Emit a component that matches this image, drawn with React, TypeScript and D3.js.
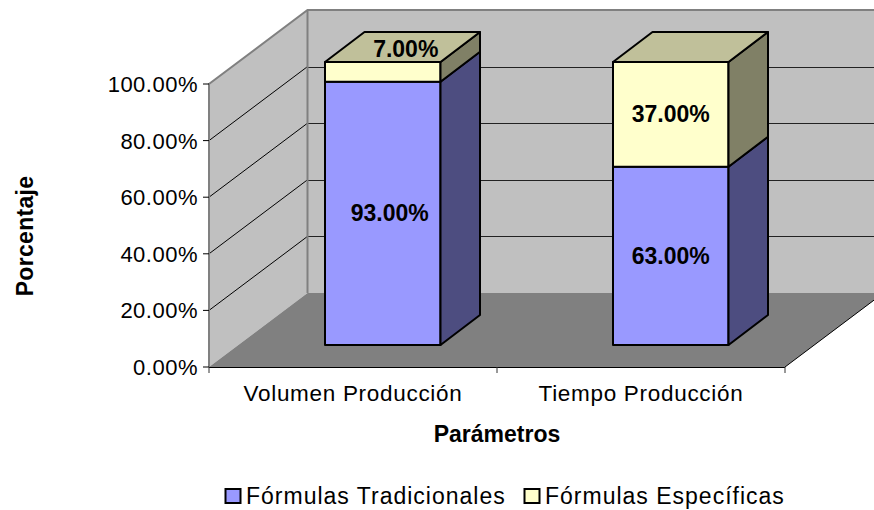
import React from "react";
import * as d3 from "d3";

const categories = ["Volumen Producción", "Tiempo Producción"];
const seriesNames = ["Fórmulas Tradicionales", "Fórmulas Específicas"];
const tradicionales = [93, 63];
const especificas = [7, 37];
const yTicks = [0, 20, 40, 60, 80, 100];
const yTickLabels = ["0.00%", "20.00%", "40.00%", "60.00%", "80.00%", "100.00%"];

const FONT = "'Liberation Sans', Arial, sans-serif";
const W = 874, H = 510;
const X0 = 209, X1 = 785, Y0 = 367, Y100 = 84;
const DEPTH_X = 98.5, DEPTH_Y = 74;
const FRONT_Y = 22;
const BAR_DX = 39.5, BAR_DY = 30;
const BAR_W = 115.5, BAR_OFFSET = 116;
const blue = ["#9999ff", "#4d4d80"];
const yellow = ["#ffffcc", "#808066", "#c0c09a"];

const x = d3.scaleBand<string>().domain(categories).range([X0, X1]);
const y = d3.scaleLinear().domain([0, 100]).range([Y0, Y100]);
const poly = (pts: number[][]) => pts.map(p => p.join(",")).join(" ");

export default function App() {
  const stacks = d3.stack<any>().keys(["a", "b"])(
    categories.map((c, i) => ({ c, a: tradicionales[i], b: especificas[i] }))
  );
  const colors = [blue, yellow];
  return (
    <svg width={W} height={H} viewBox={`0 0 ${W} ${H}`}
      style={{ position: "absolute", left: 0, top: 0, background: "#fff" }} fontFamily={FONT}>
      {/* walls */}
      <polygon points={poly([[X0, Y100], [X0 + DEPTH_X, Y100 - DEPTH_Y], [X0 + DEPTH_X, Y0 - DEPTH_Y], [X0, Y0]])} fill="#c0c0c0" />
      <polygon points={poly([[X0 + DEPTH_X, Y100 - DEPTH_Y], [X1 + DEPTH_X, Y100 - DEPTH_Y], [X1 + DEPTH_X, Y0 - DEPTH_Y], [X0 + DEPTH_X, Y0 - DEPTH_Y]])} fill="#c0c0c0" />
      <polygon points={poly([[X0, Y0], [X0 + DEPTH_X, Y0 - DEPTH_Y], [X1 + DEPTH_X, Y0 - DEPTH_Y], [X1, Y0]])} fill="#808080" />
      {/* gridlines */}
      {yTicks.slice(1, -1).map(t => (
        <g key={t} fill="none" stroke="#000" strokeWidth={1}>
          <line x1={X0} y1={y(t)} x2={X0 + DEPTH_X} y2={y(t) - DEPTH_Y} />
          <line x1={X0 + DEPTH_X} y1={Math.round(y(t) - DEPTH_Y) + 0.5} x2={X1 + DEPTH_X} y2={Math.round(y(t) - DEPTH_Y) + 0.5} stroke="#222" />
        </g>
      ))}
      {/* wall borders */}
      <polyline fill="none" stroke="#808080" strokeWidth={2}
        points={poly([[X0, Y0], [X0, Y100], [X0 + DEPTH_X, Y100 - DEPTH_Y], [X1 + DEPTH_X, Y100 - DEPTH_Y]])} />
      <line x1={X0 + DEPTH_X} y1={Y100 - DEPTH_Y} x2={X0 + DEPTH_X} y2={Y0 - DEPTH_Y} stroke="#808080" strokeWidth={2} />
      <line x1={X1} y1={Y0} x2={X1 + DEPTH_X} y2={Y0 - DEPTH_Y} stroke="#000" strokeWidth={1} />
      {/* axes */}
      <line x1={X0} y1={Y0 + 0.5} x2={X1} y2={Y0 + 0.5} stroke="#000" strokeWidth={1} />
      {yTicks.map((t, i) => (
        <g key={t}>
          <line x1={X0 - 6} x2={X0} y1={y(t)} y2={y(t)} stroke="#000" />
          <text x={198} y={y(t) + 8} textAnchor="end" fontSize={22} letterSpacing={0.5} fill="#000">{yTickLabels[i]}</text>
        </g>
      ))}
      {[X0, x(categories[1])!, X1].map(v => (
        <line key={v} x1={v} x2={v} y1={Y0} y2={Y0 + 6} stroke="#333" />
      ))}
      {categories.map(c => (
        <text key={c} x={x(c)! + x.bandwidth() / 2} y={401} textAnchor="middle" fontSize={22.5} letterSpacing={0.7} fill="#000">{c}</text>
      ))}
      {/* bars */}
      {categories.map((c, i) => {
        const left = x(c)! + BAR_OFFSET;
        const r = left + BAR_W;
        return (
          <g key={c} stroke="#000" strokeWidth={2} strokeLinejoin="round">
            {stacks.map((s, k) => {
              const yb = y(s[i][0]) - FRONT_Y, yt = y(s[i][1]) - FRONT_Y;
              return (
                <g key={k}>
                  <polygon points={poly([[left, yb], [r, yb], [r, yt], [left, yt]])} fill={colors[k][0]} />
                  <polygon points={poly([[r, yb], [r + BAR_DX, yb - BAR_DY], [r + BAR_DX, yt - BAR_DY], [r, yt]])} fill={colors[k][1]} />
                </g>
              );
            })}
            <polygon points={poly([[left, y(100) - FRONT_Y], [r, y(100) - FRONT_Y], [r + BAR_DX, y(100) - FRONT_Y - BAR_DY], [left + BAR_DX, y(100) - FRONT_Y - BAR_DY]])} fill={yellow[2]} />
          </g>
        );
      })}
      {/* data labels */}
      {categories.map((c, i) => {
        const cx = x(c)! + BAR_OFFSET + BAR_W / 2;
        return (
          <g key={c} fontWeight="bold" fontSize={23} textAnchor="middle" fill="#000">
            <text x={i === 0 ? cx + 7 : cx} y={y(tradicionales[i] / 2) - FRONT_Y + 8}>{tradicionales[i].toFixed(2)}%</text>
            <text x={cx + (i === 0 ? 23 : 0)} y={i === 0 ? 57 : y(tradicionales[i] + especificas[i] / 2) - FRONT_Y + 8}>{especificas[i].toFixed(2)}%</text>
          </g>
        );
      })}
      {/* titles */}
      <text transform="translate(33,236) rotate(-90)" textAnchor="middle" fontWeight="bold" fontSize={23} letterSpacing={0.3}>Porcentaje</text>
      <text x={497} y={442} textAnchor="middle" fontWeight="bold" fontSize={23}>Parámetros</text>
      {/* legend */}
      <rect x={225.5} y={489} width={15} height={14} fill={blue[0]} stroke="#000" strokeWidth={2} />
      <text x={246} y={504} fontSize={23} letterSpacing={1}>{seriesNames[0]}</text>
      <rect x={524.5} y={489} width={15} height={14} fill={yellow[0]} stroke="#000" strokeWidth={2} />
      <text x={545} y={504} fontSize={23} letterSpacing={1}>{seriesNames[1]}</text>
    </svg>
  );
}
